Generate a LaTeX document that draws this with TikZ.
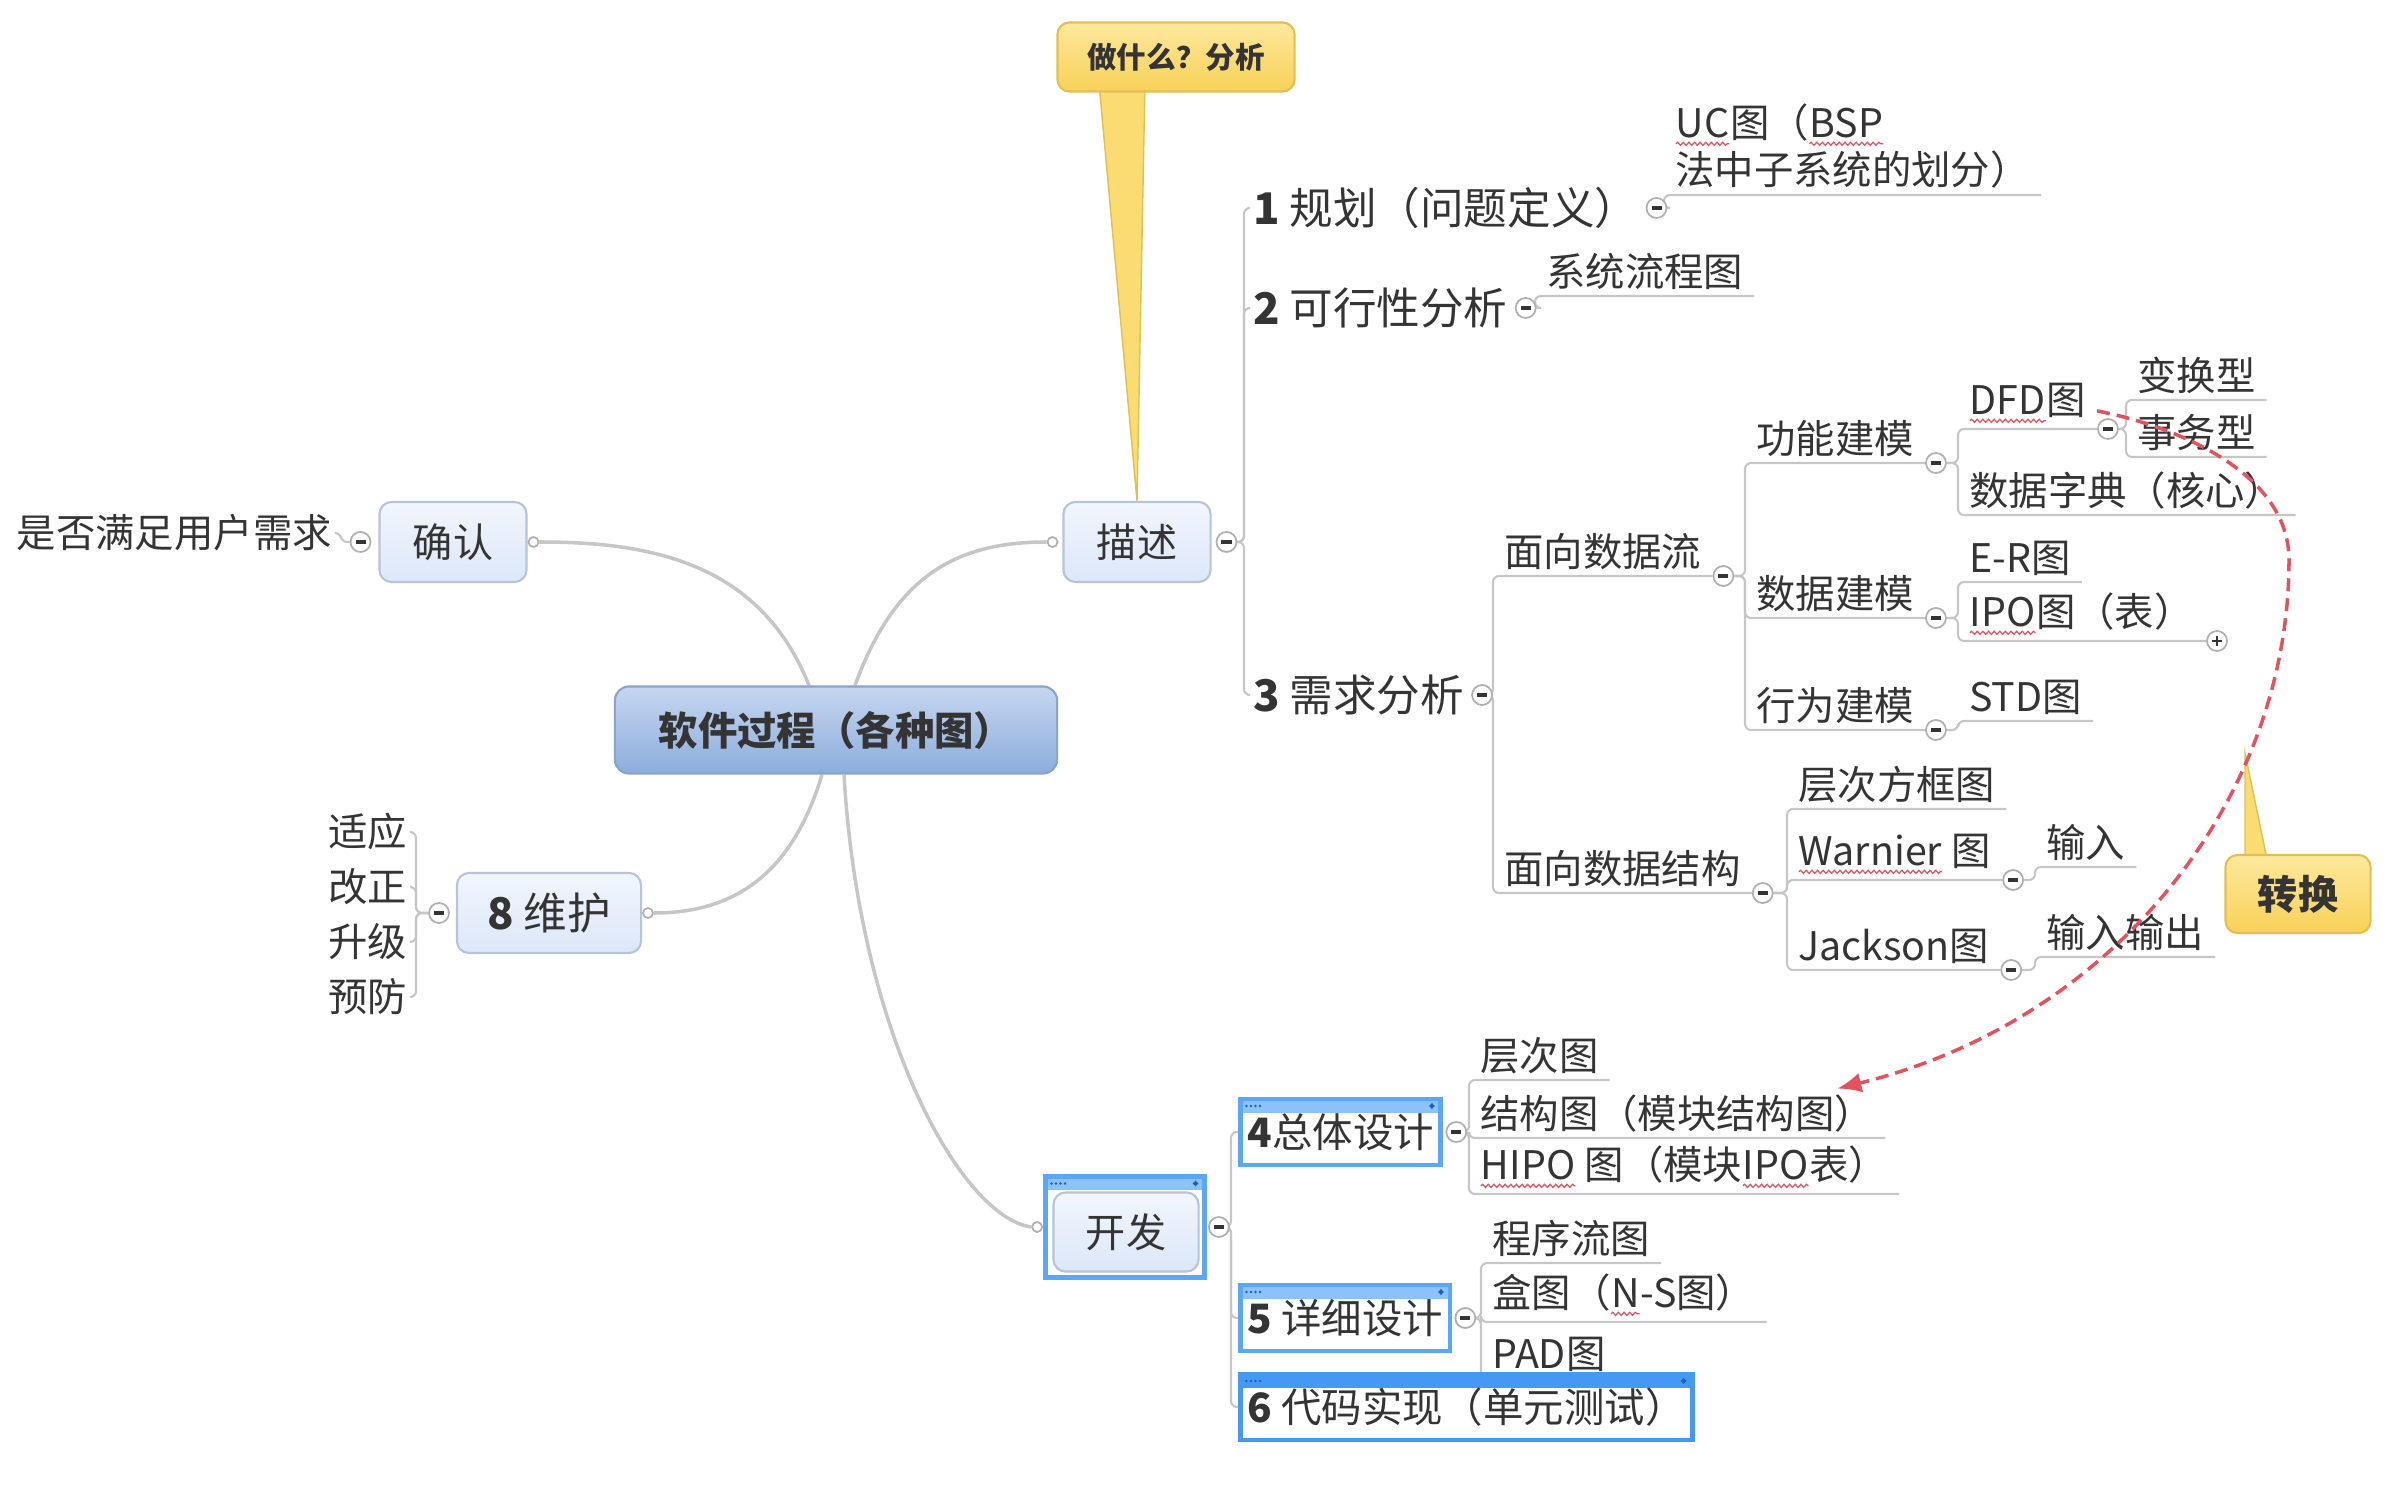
\documentclass[tikz,border=0pt]{standalone}
\usepackage{fontspec}
\setmainfont{Noto Sans CJK SC}
\usetikzlibrary{positioning,arrows.meta,decorations.pathmorphing}

\definecolor{txt}{HTML}{343434}
\definecolor{linegray}{HTML}{C6C6C6}
\definecolor{foldline}{HTML}{B0B0B0}
\definecolor{subtop}{HTML}{F2F6FD}
\definecolor{subbot}{HTML}{DCE7F9}
\definecolor{subline}{HTML}{B7C3D6}
\definecolor{roottop}{HTML}{C6D6F0}
\definecolor{rootbot}{HTML}{8CADDC}
\definecolor{rootline}{HTML}{8AA3CB}
\definecolor{calltop}{HTML}{FDE89C}
\definecolor{callbot}{HTML}{F8D158}
\definecolor{callmid}{HTML}{FADC72}
\definecolor{callline}{HTML}{E3BE55}
\definecolor{frameblue}{HTML}{5BA7F6}
\definecolor{barblue}{HTML}{8CC2F9}
\definecolor{selblue}{HTML}{4599F3}
\definecolor{dotblue}{HTML}{1F5FB8}
\definecolor{relred}{HTML}{E0535F}

\pgfdeclarelayer{back}
\pgfsetlayers{back,main}

% red wavy spell-check underline
\newcommand\wavy[1]{\tikz[baseline=(w.base)]{%
  \node[anchor=base, inner sep=0pt, outer sep=0pt, draw=none, fill=none, minimum size=0pt] (w) {#1};
  \draw[relred, line width=0.35pt, decorate,
    decoration={snake, amplitude=0.45pt, segment length=1.6pt}]
    ([yshift=-1.9pt]w.base west) -- ([yshift=-1.9pt]w.base east);}}

\begin{document}
\begin{tikzpicture}[x=0.01cm, y=-0.01cm,
    root/.style={rounded corners=0.14cm, draw=rootline, line width=0.6pt,
      top color=roottop, bottom color=rootbot, text=txt,
      font=\fontsize{11.2pt}{12pt}\selectfont\bfseries,
      minimum width=4.42cm, minimum height=0.87cm},
    sub/.style={rounded corners=0.12cm, draw=subline, line width=0.6pt,
      top color=subtop, bottom color=subbot, text=txt,
      font=\fontsize{11.4pt}{12pt}\selectfont,
      minimum width=1.47cm, minimum height=0.8cm},
    callout/.style={rounded corners=0.12cm, draw=callline, line width=0.6pt,
      top color=calltop, bottom color=callbot, text=txt},
    pointer/.style={fill=callmid, draw=callline, line width=0.4pt},
    frame/.style={draw=frameblue, line width=1.4pt, fill=white, text=txt,
      inner xsep=2pt, minimum height=0.66cm,
      font=\fontsize{11.5pt}{12pt}\selectfont,
      path picture={
        \fill[#1] (path picture bounding box.north west)
          rectangle ([yshift=-0.14cm]path picture bounding box.north east);
        \foreach \i in {0,...,3}
          \fill[dotblue] ([xshift=0.06cm+\i*0.045cm, yshift=-0.07cm]path picture bounding box.north west) circle (0.013cm);
        \fill[dotblue] ([xshift=-0.12cm, yshift=-0.07cm]path picture bounding box.north east)
          -- ++(0.035cm,0.03cm) -- ++(0,-0.06cm) -- cycle;
        \fill[dotblue] ([xshift=-0.06cm, yshift=-0.07cm]path picture bounding box.north east)
          -- ++(-0.035cm,0.03cm) -- ++(0,-0.06cm) -- cycle;
      }},
    frame/.default=barblue,
    lvl/.style={anchor=west, inner xsep=1pt, text=txt,
      font=\fontsize{12.4pt}{13pt}\selectfont},
    leaf/.style={anchor=south west, inner xsep=3pt, inner ysep=1.5pt, text=txt,
      font=\fontsize{11.2pt}{12.6pt}\selectfont},
    lleaf/.style={anchor=east, inner sep=1pt, text=txt,
      font=\fontsize{11.2pt}{12.6pt}\selectfont},
    fold/.style={circle, draw=foldline, fill=white, line width=0.5pt,
      inner sep=0pt, minimum size=0.2cm,
      path picture={\draw[txt, line width=0.9pt]
        ([xshift=-0.05cm]path picture bounding box.center) --
        ([xshift=0.05cm]path picture bounding box.center);}},
    unfold/.style={circle, draw=foldline, fill=white, line width=0.5pt,
      inner sep=0pt, minimum size=0.2cm,
      path picture={\draw[txt, line width=0.8pt]
        ([xshift=-0.05cm]path picture bounding box.center) --
        ([xshift=0.05cm]path picture bounding box.center)
        ([yshift=-0.05cm]path picture bounding box.center) --
        ([yshift=0.05cm]path picture bounding box.center);}},
    joint/.style={circle, draw=foldline, fill=white, line width=0.5pt,
      inner sep=0pt, minimum size=0.1cm},
    trunk/.style={draw=linegray, line width=1pt},
    branch/.style={draw=linegray, line width=0.6pt, rounded corners=0.06cm},
    rel/.style={draw=relred, line width=1pt, dash pattern=on 0.13cm off 0.07cm,
      -{Latex[length=0.24cm, width=0.2cm]}}
  ]
  \useasboundingbox (0,0) rectangle (2394,1498);

  % central topic
  \node[root] (root) at (836,730) {软件过程（各种图）};

  % main topics
  \node[sub] (qr) at (453,542) {确认};
  \node[sub] (ms) at (1137,542) {描述};
  \node[sub, minimum width=1.84cm, font=\fontsize{12.4pt}{13pt}\selectfont] (wh) at (549,913) {\textbf{8} 维护};
  \node[frame, minimum width=1.59cm, minimum height=1.01cm] (kfr) at (1125,1227) {};
  \node[sub, minimum width=1.45cm, minimum height=0.79cm] (kf) at (1126,1232) {开发};

  % joints and fold marks
  \node[joint, right=0pt of qr] (qrj) {};
  \node[fold, left=0.07cm of qr] (qrf) {};
  \node[joint, left=0.04cm of ms] (msj) {};
  \node[fold, right=0.04cm of ms] (msf) {};
  \node[joint, right=0pt of wh] (whj) {};
  \node[fold, left=0.06cm of wh] (whf) {};
  \node[joint, left=0pt of kfr] (kfj) {};
  \node[fold, right=0.01cm of kfr] (kff) {};

  % confirm
  \node[lleaf] (q) at (336,533) {是否满足用户需求};

  % maintenance
  \node[lleaf] (a1) at (411,832) {适应};
  \node[lleaf] (a2) at (411,887) {改正};
  \node[lleaf] (a3) at (411,942) {升级};
  \node[lleaf] (a4) at (411,997) {预防};

  % description
  \node[lvl] (k1) at (1249,208) {\textbf{1} 规划（问题定义）};
  \node[fold, right=0.03cm of k1] (k1f) {};
  \node[lvl] (k2) at (1249,308) {\textbf{2} 可行性分析};
  \node[fold, right=0.03cm of k2] (k2f) {};
  \node[lvl] (k3) at (1249,695) {\textbf{3} 需求分析};
  \node[fold, right=0.03cm of k3] (k3f) {};

  \node[leaf, text depth=1.4pt] (uc) at (1664,195) {\begin{tabular}[b]{@{}l@{}}\wavy{UC}图（\wavy{BSP}\\法中子系统的划分）\end{tabular}};
  \node[leaf] (lc) at (1535,296) {系统流程图};

  \node[leaf] (df) at (1493,576) {面向数据流};
  \node[fold, right=0pt of df.south east] (dff) {};
  \node[leaf] (ds) at (1493,893) {面向数据结构};
  \node[fold, right=0pt of ds.south east] (dsf) {};

  \node[leaf] (fm) at (1745,463) {功能建模};
  \node[fold, right=0pt of fm.south east] (fmf) {};
  \node[leaf] (dm) at (1745,618) {数据建模};
  \node[fold, right=0pt of dm.south east] (dmf) {};
  \node[leaf] (bm) at (1745,730) {行为建模};
  \node[fold, right=0pt of bm.south east] (bmf) {};

  \node[leaf] (dfd) at (1958,429) {\wavy{DFD}图};
  \node[fold, right=0pt of dfd.south east] (dfdf) {};
  \node[leaf] (dict) at (1958,515) {数据字典（核心）};
  \node[leaf] (bh) at (2126,400) {变换型};
  \node[leaf] (sw) at (2126,457) {事务型};
  \node[leaf] (er) at (1958,582) {E-R图};
  \node[leaf] (ipo) at (1958,641) {\wavy{IPO}图（表）};
  \node[unfold] (ipop) at (2217,641) {};
  \node[leaf] (std) at (1958,721) {STD图};

  \node[leaf] (hb) at (1787,809) {层次方框图};
  \node[leaf] (wn) at (1787,880) {\wavy{Warnier} 图};
  \node[fold, right=0pt of wn.south east] (wnf) {};
  \node[leaf] (js) at (1787,970) {Jackson图};
  \node[fold, right=0pt of js.south east] (jsf) {};
  \node[leaf] (wi) at (2035,867) {输入};
  \node[leaf] (jo) at (2035,957) {输入输出};

  % development
  \node[frame, anchor=west] (d4) at (1238,1132) {\textbf{4}总体设计};
  \node[fold, right=0.02cm of d4] (d4f) {};
  \node[frame, anchor=west] (d5) at (1238,1318) {\textbf{5} 详细设计};
  \node[fold, right=0.02cm of d5] (d5f) {};

  \node[leaf] (cc) at (1469,1080) {层次图};
  \node[leaf] (jg) at (1469,1138) {结构图（模块结构图）};
  \node[leaf] (hp) at (1469,1194) {\wavy{HIPO} 图（模块\wavy{IPO}表）};
  \node[leaf] (lt) at (1481,1263) {程序流图};
  \node[leaf] (ht) at (1481,1322) {盒图（\wavy{N}-S图）};
  \node[leaf] (pad) at (1481,1378) {PAD图};

  \node[frame=selblue, draw=selblue, anchor=west] (d6) at (1238,1407) {\textbf{6} 代码实现（单元测试）};

  % callouts
  \node[callout, minimum width=2.37cm, minimum height=0.69cm,
    font=\fontsize{8.4pt}{9pt}\selectfont\bfseries] (ask) at (1176,57) {做什么？分析};
  \node[callout, minimum width=1.45cm, minimum height=0.78cm,
    font=\fontsize{11.4pt}{12pt}\selectfont\bfseries] (zh) at (2298,894) {转换};
  \coordinate (zhtip) at (2245,753);

  \begin{pgfonlayer}{back}
    % callout pointers
    \draw[pointer] ([xshift=-0.77cm, yshift=0.1cm]ask.south) -- ([xshift=-0.31cm, yshift=0.1cm]ask.south) -- (ms.north) -- cycle;
    \draw[pointer] ([xshift=-0.53cm, yshift=-0.1cm]zh.north) -- ([xshift=-0.3cm, yshift=-0.1cm]zh.north) -- (zhtip) -- cycle;

    % main curves
    \draw[trunk] ([xshift=-0.27cm]root.north) .. controls +(-50,-126) and +(105,0) .. (qrj.east);
    \draw[trunk] ([xshift=0.19cm]root.north) .. controls +(40,-110) and +(-90,0) .. (msj.west);
    \draw[trunk] ([xshift=-0.14cm]root.south) .. controls +(-30,100) and +(80,0) .. (whj.east);
    \draw[trunk] ([xshift=0.08cm]root.south) .. controls +(15,260) and +(-70,-10) .. (kfj.west);

    % branches
    \draw[branch] (qrf.west) -| ([xshift=0.05cm]q.east) -- (q.east);
    \foreach \c in {a1,a2,a3,a4}
      \draw[branch] (whf.west) -| ([xshift=0.05cm]\c.east) -- (\c.east);
    \foreach \c in {k1,k2,k3}
      \draw[branch] (msf.east) -| ([xshift=-0.05cm]\c.west) -- (\c.west);
    \foreach \c in {d4,d5,d6}
      \draw[branch] (kff.east) -| ([xshift=-0.07cm]\c.west) -- (\c.west);
    \foreach \p/\c in {k1f/uc, k2f/lc, k3f/df, k3f/ds, dff/fm, dff/dm, dff/bm,
        fmf/dfd, fmf/dict, dfdf/bh, dfdf/sw, dmf/er, bmf/std,
        dsf/hb, dsf/wn, dsf/js, wnf/wi, jsf/jo,
        d4f/cc, d4f/jg, d4f/hp, d5f/lt, d5f/ht, d5f/pad}
      \draw[branch] (\p.east) -| (\c.south west) -- (\c.south east);
    \draw[branch] (dmf.east) -| (ipo.south west) -- (ipop.west);
  \end{pgfonlayer}

  % DFD to structure chart
  \coordinate (bend) at (2289,560);
  \draw[rel] ([yshift=-0.08cm]dfd.east) .. controls (2170,425) and (2289,470) .. (bend)
    .. controls (2289,800) and (2113,1021) .. ([xshift=-0.48cm]jg.north east);
\end{tikzpicture}
\end{document}
